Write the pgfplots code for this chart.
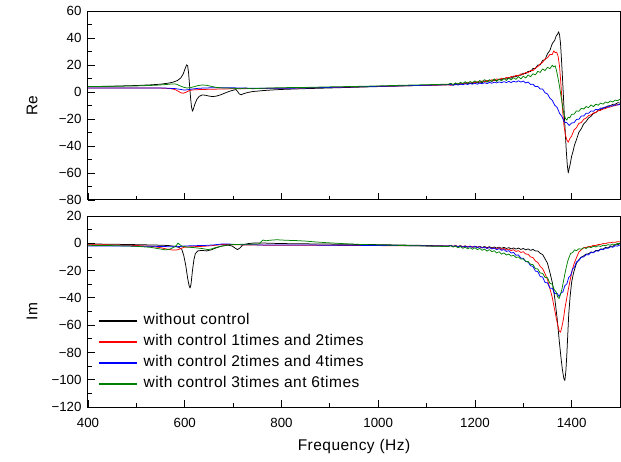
\documentclass[border=0pt]{standalone}
\usepackage{pgfplots}
\pgfplotsset{compat=1.18}
\usepackage{fontspec}
\setmainfont{Liberation Sans}
\newfontfamily\widefont[LetterSpace=3]{Liberation Sans}
\definecolor{dgreen}{RGB}{0,128,0}

\pgfplotsset{
  panel/.style={
    scale only axis, width=532pt,
    xmin=400, xmax=1500,
    xtick={400,600,800,1000,1200,1400},
    minor xtick={500,700,900,1100,1300},
    tick align=inside, xtick pos=bottom, ytick pos=left,
    major tick length=7pt, minor tick length=4pt,
    every tick/.style={black, line width=0.8pt},
    axis line style={line width=1pt},
    tick label style={font=\fontsize{13.3}{13.3}\selectfont},
    yticklabel style={xshift=-3pt},
    xticklabel style={yshift=-8pt},
    label style={font=\widefont\fontsize{15.5}{15.5}\selectfont},
    ylabel style={at={(axis description cs:-0.105,0.5)}, anchor=center},
    minor y tick num=1,
  },
}

\begin{document}
\begin{tikzpicture}
% ---------- Re ----------
\begin{axis}[panel, at={(0pt,207pt)}, height=189pt,
  ymin=-80, ymax=60,
  ytick={-80,-60,-40,-20,0,20,40,60},
  yticklabels={−80,−60,−40,−20,0,20,40,60},
  xticklabels={},
  ylabel={Re},
  every axis plot/.append style={line width=0.75pt, line join=round},
]
\addplot[black] coordinates {
(400,4.0) (450,4.3) (500,4.8) (530,5.3) (550,5.8) (565,6.5) (575,7.2) (585,8.5) (592,10.5) (597,13.5) (601,17.5) (604,20.2) (606,19.5) (608,14) (610,5) (612,-4) (614,-11) (616,-14.2) (618,-12.5) (621,-9) (625,-5.5) (630,-3.2) (636,-2.2) (643,-2.4) (650,-3.0) (658,-3.4) (666,-3.0) (675,-2.0) (685,-0.5) (695,0.8) (702,1.5) (706,1.8) (709,0.5) (713,-1.5) (717,-2.0) (722,-1.2) (730,-0.4) (740,0.3) (760,1.0) (780,1.5) (800,1.9) (850,2.5) (900,3.0) (950,3.5) (1000,4.0) (1050,4.5) (1100,5.0) (1145,5.5)
(1150,5.9) (1155,5.2) (1160,6.3) (1165,5.6) (1170,6.2) (1175,5.9) (1180,6.9) (1185,6.0) (1190,6.6) (1195,6.3) (1200,7.5) (1205,6.8) (1210,7.4) (1215,7.0) (1220,8.1) (1225,7.4) (1230,8.4) (1235,7.9) (1240,8.7) (1245,8.4) (1250,9.6) (1255,8.9) (1260,10.2) (1265,9.6) (1270,10.7) (1275,10.2) (1280,11.8) (1285,11.2) (1290,12.5) (1295,12.4) (1300,13.9) (1305,13.6) (1310,15.3) (1315,15.1) (1320,17.4) (1325,17.4) (1330,20.0) (1335,20.1) (1340,23.4) (1345,24.0) (1350,28.3) (1355,30.8) (1360,35.9) (1365,38.3) (1368,41.5) (1371,42.8) (1373,44.6) (1375,42.5) (1377,36) (1379,24) (1381,11) (1383,-3) (1385,-18) (1387,-31) (1389,-44) (1391,-54) (1393,-60) (1395,-56.5) (1397,-53.5) (1400,-47.5) (1403,-43.8) (1406,-39.2) (1410,-35.3) (1415,-29.8) (1420,-27.2) (1425,-23.6) (1430,-21.8) (1435,-19.2) (1440,-18.0) (1445,-15.9) (1450,-15.3) (1455,-13.4) (1460,-13.1) (1465,-11.6) (1470,-11.6) (1475,-10.3) (1480,-10.2) (1485,-9.1) (1490,-9.1) (1495,-8.0) (1500,-8.1)
};
\addplot[red] coordinates {
(400,3.0) (500,3.0) (550,2.9) (570,2.6) (580,1.8) (587,0.5) (592,-0.6) (597,-0.9) (602,-0.3) (608,0.8) (615,1.5) (630,1.8) (650,2.0) (700,2.4) (750,2.6) (800,2.8) (850,3.1) (900,3.4) (950,3.8) (1000,4.2) (1050,4.6) (1100,4.9) (1145,5.3)
(1150,5.0) (1155,5.7) (1160,5.4) (1165,6.2) (1170,5.7) (1175,6.5) (1180,6.2) (1185,7.0) (1190,6.5) (1195,7.3) (1200,6.9) (1205,7.7) (1210,7.2) (1215,8.2) (1220,7.6) (1225,8.6) (1230,8.1) (1235,9.1) (1240,8.6) (1245,9.7) (1250,9.1) (1255,10.2) (1260,9.6) (1265,10.8) (1270,10.3) (1275,11.5) (1280,11.1) (1285,12.4) (1290,11.9) (1295,13.4) (1300,13.0) (1305,14.5) (1310,14.2) (1315,16.0) (1320,15.8) (1325,17.8) (1330,18.8) (1335,20.8) (1340,22.0) (1345,24.4) (1350,25.3) (1355,27.8) (1360,27.8) (1363,30.4) (1366,29.2) (1369,29.5) (1372,26.5) (1375,19) (1378,5) (1381,-12) (1384,-24.5) (1387,-31.5) (1390,-35.5) (1393,-37.2) (1396,-34.6) (1400,-32.6) (1405,-28.1) (1410,-26.4) (1415,-23.2) (1420,-22.6) (1425,-20.2) (1430,-19.3) (1435,-17.4) (1440,-17.0) (1445,-15.5) (1450,-15.1) (1455,-13.9) (1460,-13.6) (1465,-12.6) (1470,-12.2) (1475,-11.4) (1480,-11.1) (1485,-10.3) (1490,-10.1) (1495,-9.3) (1500,-9.2)
};
\addplot[blue] coordinates {
(400,3.0) (500,3.0) (560,2.9) (580,2.5) (590,2.0) (598,1.5) (605,1.6) (615,2.2) (630,2.8) (660,3.2) (700,3.1) (750,2.7) (800,2.7) (850,3.0) (900,3.4) (950,3.8) (1000,4.2) (1050,4.6) (1100,5.0) (1145,5.4)
(1150,5.5) (1155,4.9) (1160,5.8) (1165,5.1) (1170,5.9) (1175,5.4) (1180,6.1) (1185,5.6) (1190,6.3) (1195,5.8) (1200,6.5) (1205,5.8) (1210,6.7) (1215,6.1) (1220,6.9) (1225,6.2) (1230,7.1) (1235,6.5) (1240,7.3) (1245,6.7) (1250,7.5) (1255,6.9) (1260,7.7) (1265,7.0) (1270,7.9) (1275,7.0) (1280,8.0) (1285,7.3) (1290,8.3) (1295,7.4) (1300,8.1) (1305,6.7) (1310,7.4) (1315,5.6) (1320,5.8) (1325,4.0) (1330,4.2) (1335,2.2) (1340,2.2) (1345,-0.6) (1350,-1.4) (1355,-4.6) (1360,-6.2) (1365,-9.8) (1370,-11.4) (1375,-15.8) (1380,-18.2) (1385,-22.4) (1390,-22.7) (1395,-24.8) (1400,-23.0) (1405,-22.7) (1410,-20.3) (1415,-20.2) (1420,-17.8) (1425,-17.8) (1430,-15.7) (1435,-15.8) (1440,-14.0) (1445,-14.3) (1450,-12.8) (1455,-13.2) (1460,-11.9) (1465,-12.2) (1470,-11.0) (1475,-11.2) (1480,-10.2) (1485,-10.4) (1490,-9.5) (1495,-9.7) (1500,-9.1)
};
\addplot[dgreen] coordinates {
(400,4.0) (450,4.2) (500,4.5) (540,5.0) (560,5.5) (575,6.0) (583,5.8) (590,4.6) (597,3.6) (604,3.0) (612,3.2) (620,4.0) (628,4.8) (636,5.2) (645,5.0) (655,4.2) (665,3.4) (680,3.0) (700,2.8) (715,2.4) (725,2.9) (740,2.4) (760,2.8) (780,3.0) (800,3.2) (850,3.4) (900,3.8) (950,4.1) (1000,4.5) (1050,5.0) (1100,5.4) (1145,5.8)
(1150,6.5) (1155,5.5) (1160,6.8) (1165,5.8) (1170,7.2) (1175,6.3) (1180,7.6) (1185,6.4) (1190,7.8) (1195,6.9) (1200,8.3) (1205,6.9) (1210,8.5) (1215,7.3) (1220,9.2) (1225,7.6) (1230,9.1) (1235,7.9) (1240,9.8) (1245,7.8) (1250,9.5) (1255,8.2) (1260,10.1) (1265,8.5) (1270,10.3) (1275,8.9) (1280,10.7) (1285,9.3) (1290,11.4) (1295,9.7) (1300,11.7) (1305,10.4) (1310,12.6) (1315,11.3) (1320,13.5) (1325,12.7) (1330,15.3) (1335,14.5) (1340,17.1) (1345,15.9) (1350,18.3) (1355,17.3) (1360,19.8) (1363,18.6) (1366,19.4) (1369,15.5) (1372,10) (1375,4) (1378,-3) (1381,-10) (1384,-16.5) (1387,-19.5) (1390,-20.8) (1393,-18.6) (1396,-19.2) (1400,-16.6) (1405,-16.4) (1410,-14.0) (1415,-14.3) (1420,-12.1) (1425,-12.6) (1430,-10.8) (1435,-11.6) (1440,-9.6) (1445,-10.8) (1450,-9.0) (1455,-9.8) (1460,-8.2) (1465,-9.0) (1470,-7.4) (1475,-8.1) (1480,-6.6) (1485,-7.4) (1490,-6.0) (1495,-6.5) (1500,-5.3)
};
\end{axis}

% ---------- Im ----------
\begin{axis}[panel, at={(0pt,0pt)}, height=191pt,
  ymin=-120, ymax=20,
  ytick={-120,-100,-80,-60,-40,-20,0,20},
  yticklabels={−120,−100,−80,−60,−40,−20,0,20},
  xticklabels={400,600,800,1000,1200,1400},
  ylabel={Im},
  xlabel={Frequency (Hz)},
  xlabel style={at={(axis description cs:0.5,0)}, anchor=center, yshift=-39pt},
  every axis plot/.append style={line width=0.75pt, line join=round},
  legend cell align=left,
  legend style={draw=none, fill=none, inner sep=0pt,
    at={(axis description cs:0,0)}, anchor=south west, xshift=10pt, yshift=14pt,
    font=\widefont\fontsize{15.5}{15.5}\selectfont, row sep=3pt,
    /tikz/every odd column/.append style={column sep=4pt},
    nodes={text height=11pt, text depth=3pt, inner sep=2pt}},
  legend image code/.code={\draw[#1, line width=1.4pt] (0pt,0pt) -- (38pt,0pt);},
]
\addplot[black] coordinates {
(400,-0.5) (450,-0.7) (500,-1.0) (540,-1.3) (565,-1.6) (580,-2.2) (588,-3.0) (594,-4.5) (598,-9) (602,-16) (606,-25.5) (609,-31) (611,-32.8) (613,-30) (616,-20) (619,-12) (622,-7.5) (627,-5.6) (635,-5.2) (645,-5.6) (655,-4.8) (666,-3.2) (677,-2.0) (690,-1.4) (698,-2.0) (704,-3.5) (709,-4.6) (714,-3.5) (720,-1.2) (730,-0.3) (745,0.3) (760,0.2) (780,0.0) (800,-0.2) (850,-0.4) (900,-0.6) (950,-0.8) (1000,-1.0) (1050,-1.3) (1100,-1.6) (1145,-2.0)
(1150,-1.6) (1155,-2.3) (1160,-1.7) (1165,-2.5) (1170,-1.8) (1175,-2.5) (1180,-1.9) (1185,-2.7) (1190,-2.1) (1195,-2.8) (1200,-2.1) (1205,-2.9) (1210,-2.3) (1215,-3.1) (1220,-2.4) (1225,-3.2) (1230,-2.5) (1235,-3.4) (1240,-2.7) (1245,-3.5) (1250,-2.8) (1255,-3.7) (1260,-3.0) (1265,-3.8) (1270,-3.2) (1275,-4.1) (1280,-3.4) (1285,-4.3) (1290,-3.5) (1295,-4.5) (1300,-3.8) (1305,-4.8) (1310,-4.1) (1315,-5.2) (1320,-4.5) (1325,-5.6) (1330,-5.6) (1335,-7.4) (1340,-8.2) (1345,-11.4) (1350,-14.6) (1355,-21.3) (1360,-28.7) (1365,-40) (1370,-55) (1374,-70) (1378,-84) (1381,-93) (1384,-99.3) (1386,-100.5) (1388,-94) (1390,-82) (1392,-67) (1394,-52) (1397,-38.5) (1400,-28.5) (1404,-21.5) (1410,-14.6) (1415,-12.0) (1420,-10.2) (1425,-9.2) (1430,-7.9) (1435,-7.7) (1440,-6.4) (1445,-6.6) (1450,-5.3) (1455,-5.4) (1460,-4.2) (1465,-4.3) (1470,-3.1) (1475,-3.3) (1480,-2.2) (1485,-2.2) (1490,-1.1) (1495,-1.1) (1500,0.0)
};
\addlegendentry{without control}
\addplot[red] coordinates {
(400,-1.0) (450,-1.2) (500,-1.6) (530,-2.2) (550,-3.2) (565,-4.4) (576,-5.0) (585,-4.8) (592,-3.8) (598,-3.0) (610,-2.6) (625,-2.4) (640,-2.2) (660,-1.6) (680,-0.8) (700,-1.0) (720,-1.2) (750,-1.3) (800,-1.5) (850,-1.5) (900,-1.5) (950,-1.6) (1000,-1.7) (1050,-1.8) (1100,-1.9) (1145,-2.0)
(1150,-1.6) (1155,-2.3) (1160,-1.7) (1165,-2.4) (1170,-1.9) (1175,-2.6) (1180,-2.0) (1185,-2.7) (1190,-2.1) (1195,-2.9) (1200,-2.2) (1205,-3.0) (1210,-2.4) (1215,-3.3) (1220,-2.7) (1225,-3.6) (1230,-3.0) (1235,-3.9) (1240,-3.3) (1245,-4.2) (1250,-3.3) (1255,-4.5) (1260,-3.8) (1265,-4.9) (1270,-4.3) (1275,-5.4) (1280,-4.7) (1285,-6.0) (1290,-5.4) (1295,-6.7) (1300,-6.2) (1305,-7.9) (1310,-8.0) (1315,-10.0) (1320,-10.5) (1325,-12.9) (1330,-14.1) (1335,-16.9) (1340,-18.6) (1345,-22.3) (1350,-26.6) (1355,-33.1) (1360,-39.7) (1365,-49) (1370,-58) (1374,-64) (1377,-65.2) (1380,-61) (1383,-55.5) (1386,-48) (1390,-40) (1393,-34) (1397,-27) (1401,-20) (1405,-15) (1410,-10.5) (1415,-6.4) (1420,-4.8) (1425,-3.2) (1430,-3.1) (1435,-2.3) (1440,-2.3) (1445,-1.5) (1450,-1.6) (1455,-0.9) (1460,-0.8) (1465,-0.2) (1470,-0.3) (1475,0.4) (1480,0.3) (1485,0.8) (1490,0.7) (1495,1.2) (1500,1.0)
};
\addlegendentry{with control 1times and 2times}
\addplot[blue] coordinates {
(400,-2.0) (450,-2.0) (500,-2.1) (550,-2.3) (575,-2.6) (590,-2.4) (600,-2.0) (615,-1.8) (640,-1.6) (660,-1.2) (675,-0.6) (690,-0.5) (705,-0.9) (730,-1.1) (760,-1.2) (800,-1.3) (850,-1.3) (900,-1.4) (950,-1.5) (1000,-1.6) (1050,-1.7) (1100,-1.9) (1145,-2.0)
(1150,-1.6) (1155,-2.4) (1160,-1.8) (1165,-2.6) (1170,-1.9) (1175,-2.8) (1180,-2.1) (1185,-2.9) (1190,-2.2) (1195,-3.0) (1200,-2.3) (1205,-3.2) (1210,-2.5) (1215,-3.5) (1220,-2.8) (1225,-3.8) (1230,-3.1) (1235,-4.2) (1240,-3.5) (1245,-4.7) (1250,-3.9) (1255,-5.2) (1260,-4.6) (1265,-6.0) (1270,-5.4) (1275,-7.2) (1280,-6.7) (1285,-8.8) (1290,-8.5) (1295,-10.9) (1300,-10.9) (1305,-13.5) (1310,-13.7) (1315,-16.5) (1320,-16.9) (1325,-20.4) (1330,-20.7) (1335,-24.4) (1340,-24.7) (1345,-28.7) (1350,-29.0) (1355,-32.9) (1360,-32.9) (1365,-36.9) (1370,-36.7) (1374,-39.0) (1378,-36.4) (1382,-35.6) (1386,-31.0) (1390,-29.8) (1394,-25.0) (1398,-23.5) (1402,-18.8) (1406,-17.5) (1410,-13.6) (1415,-12.6) (1420,-10.2) (1425,-10.0) (1430,-8.3) (1435,-8.5) (1440,-6.7) (1445,-7.0) (1450,-5.5) (1455,-5.8) (1460,-4.4) (1465,-4.7) (1470,-3.5) (1475,-3.7) (1480,-2.6) (1485,-2.9) (1490,-1.8) (1495,-2.1) (1500,-1.2)
};
\addlegendentry{with control 2times and 4times}
\addplot[dgreen] coordinates {
(400,-1.5) (450,-1.7) (500,-2.2) (530,-3.0) (550,-4.2) (560,-4.8) (570,-4.2) (578,-2.8) (583,-1.5) (586,0.2) (589,-0.8) (594,-2.0) (605,-2.8) (620,-3.2) (635,-3.8) (648,-4.6) (655,-4.2) (665,-3.0) (680,-1.8) (695,-1.0) (715,-0.8) (740,-0.6) (755,-0.4) (758,1.2) (762,2.4) (768,1.8) (775,2.2) (790,2.6) (810,2.2) (830,2.0) (850,1.6) (870,1.0) (900,0.3) (930,-0.3) (960,-0.8) (1000,-1.2) (1050,-1.6) (1100,-2.0) (1145,-2.4)
(1150,-1.8) (1155,-2.8) (1160,-2.1) (1165,-3.3) (1170,-2.4) (1175,-3.7) (1180,-2.8) (1185,-4.1) (1190,-3.2) (1195,-4.4) (1200,-3.2) (1205,-4.6) (1210,-3.7) (1215,-5.2) (1220,-4.2) (1225,-5.8) (1230,-4.6) (1235,-6.2) (1240,-5.4) (1245,-7.1) (1250,-6.2) (1255,-8.0) (1260,-7.0) (1265,-8.6) (1270,-7.9) (1275,-9.4) (1280,-8.8) (1285,-10.4) (1290,-10.0) (1295,-11.6) (1300,-11.4) (1305,-13.2) (1310,-13.4) (1315,-15.4) (1320,-15.6) (1325,-18.6) (1330,-18.8) (1335,-21.8) (1340,-22.0) (1345,-25.0) (1350,-25.2) (1355,-29.3) (1360,-30.0) (1364,-34.0) (1368,-35.8) (1371,-39.2) (1374,-40.5) (1377,-37.5) (1380,-33.5) (1383,-28) (1386,-22.5) (1389,-17.5) (1392,-13.0) (1395,-10.0) (1398,-7.4) (1402,-6.8) (1406,-4.8) (1410,-5.4) (1415,-4.0) (1420,-4.4) (1425,-3.2) (1430,-3.8) (1435,-2.6) (1440,-3.2) (1445,-2.2) (1450,-2.7) (1455,-1.8) (1460,-2.3) (1465,-1.4) (1470,-1.8) (1475,-1.0) (1480,-1.4) (1485,-0.6) (1490,-0.9) (1495,0.0) (1500,-0.4)
};
\addlegendentry{with control 3times ant 6times}
\end{axis}
\pgfresetboundingbox
\path (-88pt,-54pt) rectangle (533pt,407pt);
\end{tikzpicture}
\end{document}
